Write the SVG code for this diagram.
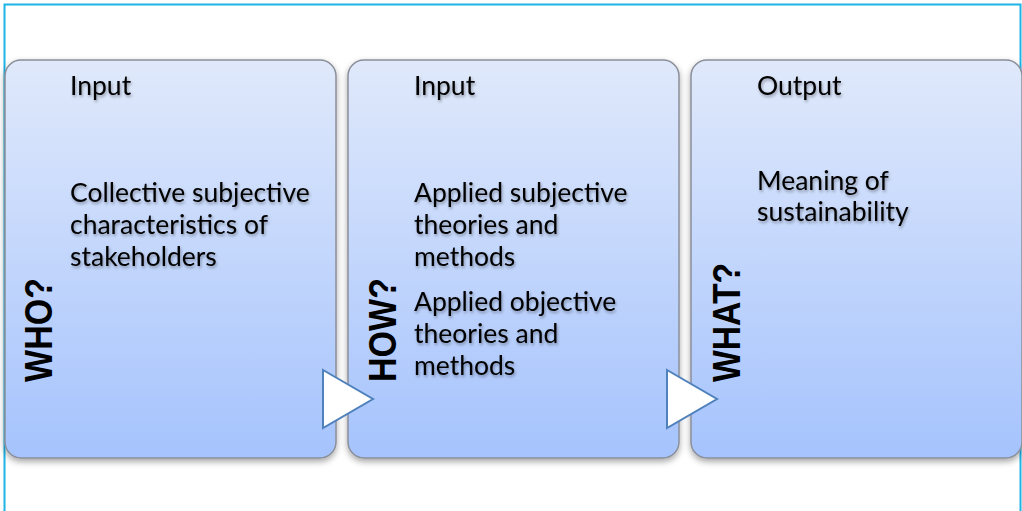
<svg xmlns="http://www.w3.org/2000/svg" width="1022" height="511" viewBox="0 0 1022 511">
<defs>
<linearGradient id="g" x1="0" y1="0" x2="0" y2="1">
<stop offset="0" stop-color="#e0e9fb"/>
<stop offset="1" stop-color="#a5c3fd"/>
</linearGradient>
<filter id="sh" x="-5%" y="-5%" width="110%" height="115%">
<feDropShadow dx="0" dy="3" stdDeviation="3" flood-color="#000" flood-opacity="0.35"/>
</filter>
<filter id="ts" x="-10%" y="-30%" width="120%" height="160%">
<feDropShadow dx="1" dy="2" stdDeviation="1.5" flood-color="#000" flood-opacity="0.35"/>
</filter>
</defs>
<style>
.box{fill:url(#g);stroke:#8a8f99;stroke-width:1.5}
.t{font-family:Lato,"Liberation Sans",sans-serif;font-size:26.5px;fill:#000;filter:url(#ts)}
.v{font-family:"Liberation Sans",sans-serif;font-size:39px;font-weight:bold;fill:#000}
.arr{fill:#fff;stroke:#4f81bd;stroke-width:2}
</style>
<rect x="0" y="0" width="1022" height="511" fill="#fff"/>
<path d="M4.5 511 V4.5 H1020.5 V511" fill="none" stroke="#1fb4e6" stroke-width="2"/>
<g id="node-who">
<rect class="box" x="5" y="60" width="331" height="398" rx="16" filter="url(#sh)"/>
<text class="t" x="70" y="95">Input</text>
<text class="t" x="70" y="202">Collective subjective</text>
<text class="t" x="70" y="234">characteristics of</text>
<text class="t" x="70" y="266">stakeholders</text>
<text class="v" transform="translate(52,382) rotate(-90)" textLength="104" lengthAdjust="spacingAndGlyphs">WHO?</text>
</g>
<g id="node-how">
<rect class="box" x="348" y="60" width="331" height="398" rx="16" filter="url(#sh)"/>
<text class="t" x="414" y="95">Input</text>
<text class="t" x="414" y="202">Applied subjective</text>
<text class="t" x="414" y="234">theories and</text>
<text class="t" x="414" y="266">methods</text>
<text class="t" x="414" y="311">Applied objective</text>
<text class="t" x="414" y="343">theories and</text>
<text class="t" x="414" y="375">methods</text>
<text class="v" transform="translate(396,382) rotate(-90)" textLength="104" lengthAdjust="spacingAndGlyphs">HOW?</text>
</g>
<g id="node-what">
<rect class="box" x="691" y="60" width="331" height="398" rx="16" filter="url(#sh)"/>
<text class="t" x="757" y="95">Output</text>
<text class="t" x="757" y="190">Meaning of</text>
<text class="t" x="757" y="221">sustainability</text>
<text class="v" transform="translate(740,382) rotate(-90)" textLength="119" lengthAdjust="spacingAndGlyphs">WHAT?</text>
</g>
<g id="connectors">
<polygon class="arr" points="323,370 373,399 323,428"/>
<polygon class="arr" points="667,370 717,399 667,428"/>
</g>
</svg>
